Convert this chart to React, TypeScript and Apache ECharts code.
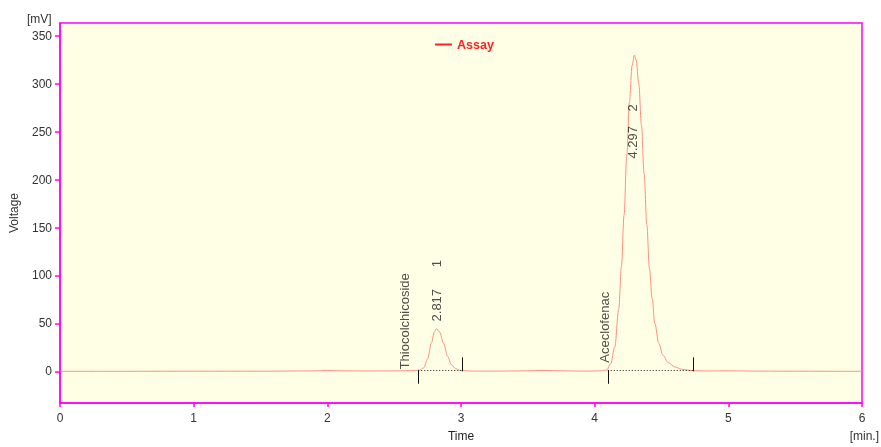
import React, { useEffect, useRef } from "react";
import * as echarts from "echarts";

// Chromatogram trace (time in min, voltage in mV)
const times = [
  0, 0.5, 1.0, 1.5, 1.9, 2.0, 2.1, 2.3, 2.5, 2.62, 2.66, 2.69, 2.72, 2.75, 2.78, 2.8, 2.817,
  2.84, 2.87, 2.9, 2.93, 2.96, 3.0, 3.05, 3.1, 3.3, 3.5, 3.6, 3.7, 3.9, 4.0, 4.06, 4.09, 4.12,
  4.15, 4.18, 4.2, 4.22, 4.24, 4.26, 4.28, 4.297, 4.31, 4.33, 4.35, 4.37, 4.39, 4.41, 4.43,
  4.45, 4.48, 4.51, 4.55, 4.6, 4.65, 4.7, 4.75, 4.85, 5.0, 5.2, 5.4, 5.6, 5.8, 6.0,
];
const voltage = [
  0, 0, 0.1, 0.1, 0.4, 0.8, 0.5, 0.3, 0.4, 0.6, 0.8, 1.2, 3.5, 13, 30, 41, 44.5,
  41, 29, 15.5, 6.5, 2.6, 0.9, 0.4, 0.2, 0.2, 0.5, 0.9, 0.6, 0.2, 0.3, 0.6, 1.5, 8,
  25, 65, 109, 163, 225, 281, 319, 330, 325, 300, 257, 206, 153, 107, 76,
  50, 29, 17, 9, 4.5, 2.2, 1.2, 0.6, 0.3, 0.5, 0.2, 0.1, 0.1, 0.0, 0.0,
];

// Peak annotations: [time, voltage anchor, text]
const labelTimes = [2.58, 2.813, 4.075, 4.28];
const labelValues = [2, 52, 9, 222];
const labelTexts = ["Thiocolchicoside", "2.817      1", "Aceclofenac", "4.297    2"];

// Integration limits of each peak (min)
const peakStart = [2.68, 4.098];
const peakEnd = [3.007, 4.738];
const tickDown = -13;
const tickUp = 14.5;
const baseLevel = 0.6;

const yTicks = [0, 50, 100, 150, 200, 250, 300, 350];

export default function App() {
  const ref = useRef<HTMLDivElement>(null);
  useEffect(() => {
    if (!ref.current) return;
    const chart = echarts.init(ref.current, undefined, { renderer: "svg" });
    const font = "'Liberation Sans', Arial, sans-serif";
    const magenta = "#ff00ff";

    const markData: any[] = [];
    peakStart.forEach((s, i) => {
      const e = peakEnd[i];
      markData.push([{ coord: [s, 1.5], lineStyle: { type: "solid", color: "#111", width: 1 } }, { coord: [s, tickDown] }]);
      markData.push([{ coord: [e, 0], lineStyle: { type: "solid", color: "#111", width: 1 } }, { coord: [e, tickUp] }]);
      markData.push([{ coord: [s, baseLevel], lineStyle: { type: [1, 2], color: "#222", width: 1 } }, { coord: [e, baseLevel] }]);
    });

    chart.setOption({
      animation: false,
      textStyle: { fontFamily: font },
      grid: {
        left: 60,
        right: 19,
        top: 23,
        bottom: 41,
        show: true,
        backgroundColor: "#ffffe6",
        borderColor: magenta,
        borderWidth: 1.5,
      },
      legend: {
        data: [{ name: "Assay", icon: "rect", itemStyle: { color: "#ff2020" } }],
        left: 430,
        top: 33,
        itemWidth: 17,
        itemHeight: 2,
        itemGap: 4,
        textStyle: { color: "#ff2020", fontWeight: "bold", fontSize: 12.5, fontFamily: font },
      },
      xAxis: {
        type: "value",
        min: 0,
        max: 6,
        interval: 1,
        name: "Time",
        nameLocation: "middle",
        nameGap: 27,
        nameTextStyle: { color: "#222", fontSize: 12 },
        axisLine: { show: true, onZero: false, lineStyle: { color: magenta, width: 1.5 } },
        axisTick: { show: true, inside: false, length: 4, lineStyle: { color: magenta, width: 1.5 } },
        axisLabel: { color: "#333", fontSize: 12, margin: 9 },
        splitLine: { show: false },
      },
      yAxis: {
        type: "value",
        min: -33.1,
        max: 363.5,
        name: "Voltage",
        nameLocation: "middle",
        nameGap: 40,
        nameTextStyle: { color: "#333", fontSize: 12 },
        axisLine: { show: true, onZero: false, lineStyle: { color: magenta, width: 1.5 } },
        axisTick: { show: true, inside: false, length: 5, customValues: yTicks, lineStyle: { color: magenta, width: 1.5 } },
        axisLabel: { color: "#333", fontSize: 12, margin: 8, customValues: yTicks },
        splitLine: { show: false },
      },
      graphic: [
        { type: "text", left: 27, top: 13, style: { text: "[mV]", fill: "#333", fontSize: 12, fontFamily: font } },
        { type: "text", right: 2, top: 430, style: { text: "[min.]", fill: "#333", fontSize: 12, fontFamily: font } },
      ],
      series: [
        {
          name: "Assay",
          type: "line",
          data: times.map((t, i) => [t, voltage[i]]),
          smooth: 0.35,
          smoothMonotone: "x",
          showSymbol: false,
          symbol: "none",
          itemStyle: { color: "#ff2020" },
          lineStyle: { color: "#ff8f80", width: 1 },
          z: 3,
          markLine: {
            silent: true,
            symbol: ["none", "none"],
            label: { show: false },
            emphasis: { disabled: true },
            data: markData,
          },
        },
        {
          name: "labels",
          type: "scatter",
          symbolSize: 0,
          silent: true,
          data: labelTimes.map((t, i) => ({ value: [t, labelValues[i]], name: labelTexts[i] })),
          label: {
            show: true,
            position: [0, 0],
            rotate: 90,
            align: "left",
            verticalAlign: "middle",
            formatter: (p: any) => p.name,
            color: "#222",
            fontSize: 13,
            fontFamily: font,
          },
          z: 4,
        },
      ],
    });
    return () => chart.dispose();
  }, []);
  return <div ref={ref} style={{ position: "fixed", left: 0, top: 0, width: 881, height: 447 }} />;
}
